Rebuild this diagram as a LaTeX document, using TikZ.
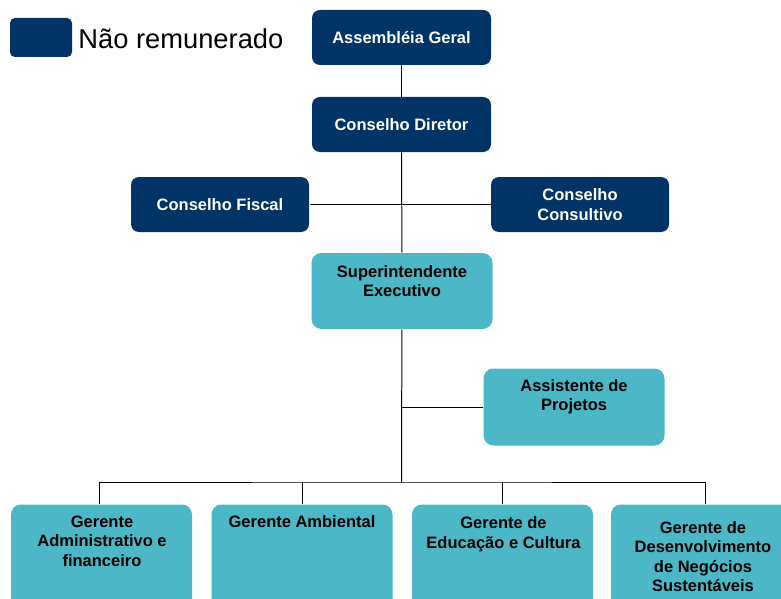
\documentclass[tikz,border=0pt]{standalone}
\usepackage{fontspec}
\setmainfont{Liberation Sans}
\usepackage{xcolor}
\usepackage{tikz}
\usetikzlibrary{positioning}

\definecolor{orgnavy}{RGB}{0,51,102}
\definecolor{orgteal}{RGB}{75,183,199}
\newcommand{\orgfont}{\bfseries\fontsize{16.5}{19.5}\selectfont}
\newcommand{\keyfont}{\fontsize{27.3}{32}\selectfont}

\begin{document}
\begin{tikzpicture}[x=1pt, y=-1pt, line width=0.35mm,
    darkbox/.style={fill=orgnavy, text=white, rounded corners=8pt, font=\orgfont,
                    align=center, minimum width=179pt, minimum height=55pt, inner sep=0pt},
    lightbox/.style={fill=orgteal, rounded corners=10pt, minimum width=181pt,
                     minimum height=76pt, inner sep=0pt},
    boxtext/.style={font=\orgfont, align=center, inner sep=0pt}]
          \useasboundingbox (0,0) rectangle (781,599);
          \clip (0,0) rectangle (781,599);

          % legenda
          \node[darkbox, minimum width=62pt, minimum height=39pt, rounded corners=5pt] (key) at (41, 37.5) {};
          \node[anchor=base west, font=\keyfont, inner sep=0pt] (keytext) at (78, 49) {Não remunerado};

          % conselhos
          \node[darkbox] (ag) at (401.5, 37.5) {Assembléia Geral};
          \node[darkbox] (cd) at (401.5, 124.5) {Conselho Diretor};
          \node[darkbox, minimum width=178pt] (cf) at (220, 204.5) {Conselho Fiscal};
          \node[darkbox, minimum width=178pt] (cc) at (580, 204.5) {Conselho\\Consultivo};

          % executivo
          \node[lightbox] (se) at (402, 291) {};
          \node[boxtext] (seT) at (402, 281) {Superintendente\\Executivo};
          \node[lightbox, minimum height=77pt] (ap) at (574, 407) {};
          \node[boxtext] (apT) at (574, 396.5) {Assistente de\\Projetos};

          % gerentes
          \node[lightbox, minimum height=130pt, anchor=north] (adm) at (101.5, 504) {};
          \node[lightbox, minimum height=130pt, anchor=north] (amb) at (302, 504) {};
          \node[lightbox, minimum height=130pt, anchor=north] (edu) at (502.5, 504) {};
          \node[lightbox, minimum height=130pt, minimum width=188pt, anchor=north] (dns) at (705, 504) {};
          \node[boxtext] (admT) at (102, 541) {Gerente\\Administrativo e\\financeiro};
          \node[boxtext] (ambT) at (302, 521.5) {Gerente Ambiental};
          \node[boxtext] (eduT) at (503.5, 534) {Gerente de\\Educação e Cultura};
          \node[boxtext] (dnsT) at (703, 556.5) {Gerente de\\Desenvolvimento\\de Negócios\\Sustentáveis};

          \coordinate (bus) at (401.5, 482);

          \draw (ag) -- (cd);
          \draw (cd) -- (se);
          \draw (cf.east) -- (cc.west);
          \draw (se) -- (bus);
          \draw (ap.west) -- (ap.west -| bus);
          \draw ([xshift=-2.5pt]adm.north) |- (bus) -| (dns.north);
          \draw (amb.north) -- (amb.north |- bus);
          \draw (edu.north) -- (edu.north |- bus);
        \end{tikzpicture}
\end{document}
